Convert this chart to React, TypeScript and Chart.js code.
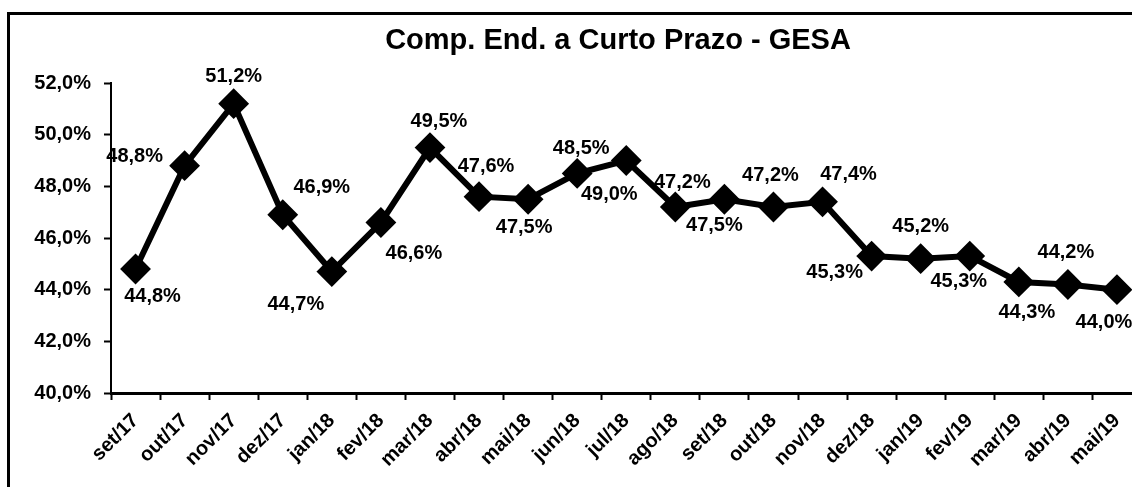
import React, { useEffect, useRef } from "react";
import { Chart, registerables } from "chart.js";

Chart.register(...registerables);

const TITLE = "Comp. End. a Curto Prazo - GESA";
const categories = [
  "set/17", "out/17", "nov/17", "dez/17", "jan/18", "fev/18", "mar/18", "abr/18",
  "mai/18", "jun/18", "jul/18", "ago/18", "set/18", "out/18", "nov/18", "dez/18",
  "jan/19", "fev/19", "mar/19", "abr/19", "mai/19",
];
const values = [
  44.8, 48.8, 51.2, 46.9, 44.7, 46.6, 49.5, 47.6, 47.5, 48.5, 49.0, 47.2, 47.5,
  47.2, 47.4, 45.3, 45.2, 45.3, 44.3, 44.2, 44.0,
];
const yMin = 40;
const yMax = 52;
const yStep = 2;
// label placement offsets (px) relative to each marker
const labelOffsets: [number, number][] = [
  [17, 27], [-50, -9], [0, -27], [39, -27], [-36, 33], [33, 31], [9, -26],
  [7, -30], [-4, 28], [4, -25], [-17, 34], [7, -25], [-10, 26], [-3, -32],
  [26, -27], [-37, 16], [0, -32], [-11, 25], [8, 31], [-2, -32], [-13, 33],
];

const FONT = '"Liberation Sans", Arial, sans-serif';
const fmt = (v: number) => v.toFixed(1).replace(".", ",") + "%";

const W = 1170;
const H = 520;

export default function App() {
  const ref = useRef<HTMLCanvasElement | null>(null);
  useEffect(() => {
    if (!ref.current) return;
    const framePlugin = {
      id: "frame",
      beforeDraw(chart: any) {
        const ctx = chart.ctx;
        ctx.save();
        ctx.fillStyle = "#fff";
        ctx.fillRect(0, 0, chart.width, chart.height);
        ctx.strokeStyle = "#000";
        ctx.lineWidth = 3;
        ctx.strokeRect(8.5, 13.5, 1300, 700);
        ctx.fillStyle = "#000";
        ctx.font = `bold 29px ${FONT}`;
        ctx.textAlign = "center";
        ctx.textBaseline = "middle";
        ctx.fillText(TITLE, 618, 41);
        ctx.restore();
      },
    };
    const labelPlugin = {
      id: "valLabels",
      afterDatasetsDraw(chart: any) {
        const ctx = chart.ctx;
        const meta = chart.getDatasetMeta(0);
        ctx.save();
        ctx.fillStyle = "#000";
        ctx.font = `bold 20px ${FONT}`;
        ctx.textAlign = "center";
        ctx.textBaseline = "middle";
        meta.data.forEach((pt: any, i: number) => {
          const [dx, dy] = labelOffsets[i];
          ctx.fillText(fmt(values[i]), pt.x + dx, pt.y + dy);
        });
        ctx.restore();
      },
    };
    const chart = new Chart(ref.current, {
      type: "line",
      data: {
        labels: categories,
        datasets: [
          {
            data: values,
            borderColor: "#000",
            borderWidth: 6,
            backgroundColor: "#000",
            pointStyle: "rectRot",
            pointRadius: 14,
            pointBorderWidth: 2,
            pointBorderColor: "#000",
            pointBackgroundColor: "#000",
            tension: 0,
            clip: false as any,
          },
        ],
      },
      options: {
        animation: false,
        responsive: false,
        devicePixelRatio: 1,
        layout: { padding: { top: 83, left: 0, right: W - 1141.5, bottom: 0 } },
        plugins: {
          legend: { display: false },
          title: { display: false },
          tooltip: { enabled: false },
        },
        scales: {
          x: {
            type: "category",
            offset: true,
            afterFit(scale: any) {
              scale.height = H - 393;
            },
            grid: {
              offset: true,
              drawOnChartArea: false,
              color: "#000",
              tickLength: 7,
              tickWidth: 2,
            },
            border: { display: true, color: "#000", width: 3 },
            ticks: {
              color: "#000",
              font: { family: FONT, size: 20, weight: "bold" },
              maxRotation: 45,
              minRotation: 45,
              padding: 9,
              autoSkip: false,
            },
          },
          y: {
            min: yMin,
            max: yMax,
            afterFit(scale: any) {
              scale.width = 111;
            },
            grid: {
              drawOnChartArea: false,
              color: "#000",
              tickLength: 7,
              tickWidth: 2,
            },
            border: { display: true, color: "#000", width: 2 },
            ticks: {
              stepSize: yStep,
              color: "#000",
              font: { family: FONT, size: 20, weight: "bold" },
              padding: 13,
              callback: (v: any) => fmt(Number(v)),
            },
          },
        },
      },
      plugins: [framePlugin, labelPlugin],
    });
    return () => chart.destroy();
  }, []);
  return (
    <div
      style={{
        position: "fixed",
        left: 0,
        top: 0,
        width: 1132,
        height: 487,
        overflow: "hidden",
        background: "#fff",
      }}
    >
      <canvas ref={ref} width={W} height={H} style={{ width: W, height: H, display: "block" }} />
    </div>
  );
}
